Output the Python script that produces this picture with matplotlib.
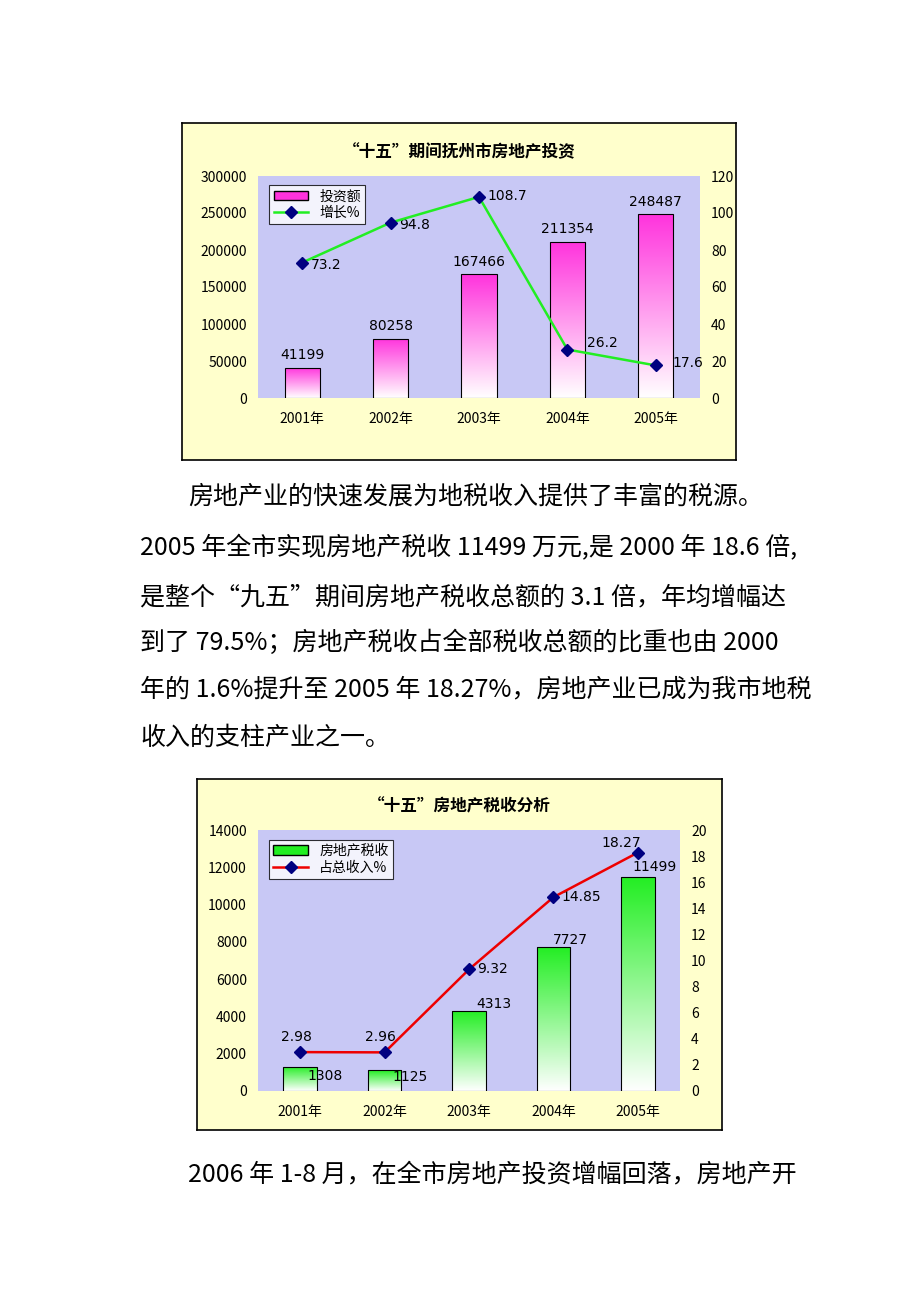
import matplotlib
matplotlib.use("Agg")
import matplotlib.pyplot as plt
import numpy as np
from matplotlib.patches import Rectangle
from matplotlib.colors import LinearSegmentedColormap

plt.rcParams['font.family'] = ['Noto Sans CJK SC', 'DejaVu Sans']

years = ["2001年", "2002年", "2003年", "2004年", "2005年"]
invest = [41199, 80258, 167466, 211354, 248487]
invest_growth = [73.2, 94.8, 108.7, 26.2, 17.6]
tax = [1308, 1125, 4313, 7727, 11499]
tax_share = [2.98, 2.96, 9.32, 14.85, 18.27]

W, H = 920, 1302
fig = plt.figure(figsize=(W/100, H/100), dpi=100)

def fx(px): return px / W
def fy(py): return 1 - py / H

def box(x0, y0, x1, y1):
    ax = fig.add_axes([fx(x0), fy(y1), fx(x1) - fx(x0), fy(y0) - fy(y1)])
    ax.set_facecolor('#FFFFCC')
    ax.set_xticks([]); ax.set_yticks([])
    for s in ax.spines.values():
        s.set_linewidth(1.2); s.set_color('black')
    return ax

def grad_bars(ax, vals, top_color, width=0.4):
    cmap = LinearSegmentedColormap.from_list('g', ['#FFFFFF', top_color])
    grad = np.linspace(0, 1, 256).reshape(-1, 1)
    for i, v in enumerate(vals):
        r = Rectangle((i - width/2, 0), width, v, facecolor='none', edgecolor='black', lw=0.8, zorder=3)
        ax.add_patch(r)
        im = ax.imshow(grad, extent=(i - width/2, i + width/2, 0, v), origin='lower',
                       cmap=cmap, aspect='auto', zorder=2)
        im.set_clip_path(r)

def chart(bx, pa, title, bars, bar_col, ymax_l, step_l, line, line_col, ymax_r, step_r,
          leg1, leg2, bar_offs, line_offs):
    box(*bx)
    x0, y0, x1, y1 = pa
    ax = fig.add_axes([fx(x0), fy(y1), fx(x1) - fx(x0), fy(y0) - fy(y1)])
    ax.set_facecolor('#C8C8F5')
    grad_bars(ax, bars, bar_col)
    ax.set_xlim(-0.5, 4.5)
    ax.set_ylim(0, ymax_l)
    ax.set_yticks(np.arange(0, ymax_l + 1, step_l))
    ax.set_xticks(range(5))
    ax.set_xticklabels(years, fontsize=10, family=['Noto Sans CJK SC'])
    ax.tick_params(axis='y', labelsize=10, length=0, pad=8)
    ax.tick_params(axis='x', length=0, pad=10)
    for s in ax.spines.values():
        s.set_visible(False)
    ax2 = ax.twinx()
    ax2.set_ylim(0, ymax_r)
    ax2.set_yticks(np.arange(0, ymax_r + 1, step_r))
    ax2.tick_params(axis='y', labelsize=10, length=0, pad=8)
    for s in ax2.spines.values():
        s.set_visible(False)
    ln, = ax2.plot(range(5), line, color=line_col, lw=1.8, marker='D', ms=6,
                   mfc='#000080', mec='#000080', zorder=5)
    for i, v in enumerate(bars):
        ax.annotate(str(v), (i, v), xytext=bar_offs[i], textcoords='offset points',
                    ha='center', va='bottom', fontsize=10, family=['DejaVu Sans'])
    for i, v in enumerate(line):
        ax2.annotate(str(v), (i, v), xytext=line_offs[i], textcoords='offset points',
                     ha='left', va='center', fontsize=10, family=['DejaVu Sans'])
    from matplotlib.patches import Patch
    from matplotlib.legend_handler import HandlerPatch
    h1 = Patch(facecolor=bar_col, edgecolor='black', label=leg1)
    leg = ax2.legend([h1, ln], [leg1, leg2], loc='upper left', bbox_to_anchor=(0.01, 0.99),
                     fontsize=10, frameon=True, fancybox=False, edgecolor='black',
                     handlelength=2.5, borderpad=0.3, labelspacing=0.2)
    leg.get_frame().set_linewidth(0.8)
    fig.text(fx((bx[0] + bx[2]) / 2), fy(title[1]), title[0], ha='center', va='center',
             fontsize=12, fontweight='bold')

chart((182, 123, 736, 460), (258, 176, 700, 398), ("“十五”期间抚州市房地产投资", 152),
      invest, '#FF33DD', 300000, 50000, invest_growth, '#22EE22', 120, 20,
      "投资额", "增长%",
      [(0, 4), (0, 4), (0, 4), (0, 4), (0, 4)],
      [(6, -2), (6, -2), (6, 1), (14, 5), (12, 2)])

chart((197, 779, 722, 1130), (258, 830, 680, 1091), ("“十五”房地产税收分析", 806),
      tax, '#22EE22', 14000, 2000, tax_share, '#EE0000', 20, 2,
      "房地产税收", "占总收入%",
      [(18, -12), (18, -10), (18, 0), (12, 0), (12, 2)],
      [(-14, 11), (-14, 11), (6, 0), (6, 0), (-26, 7)])

lines = [
    (188, 497, "房地产业的快速发展为地税收入提供了丰富的税源。"),
    (140, 548, "2005 年全市实现房地产税收 11499 万元,是 2000 年 18.6 倍,"),
    (140, 597, "是整个“九五”期间房地产税收总额的 3.1 倍，年均增幅达"),
    (140, 643, "到了 79.5%；房地产税收占全部税收总额的比重也由 2000"),
    (140, 689, "年的 1.6%提升至 2005 年 18.27%，房地产业已成为我市地税"),
    (140, 738, "收入的支柱产业之一。"),
    (188, 1174, "2006 年 1-8 月，在全市房地产投资增幅回落，房地产开"),
]
for x, y, t in lines:
    fig.text(fx(x), fy(y), t, ha='left', va='center', fontsize=18)

fig.savefig("out.png", dpi=100, facecolor='white')
